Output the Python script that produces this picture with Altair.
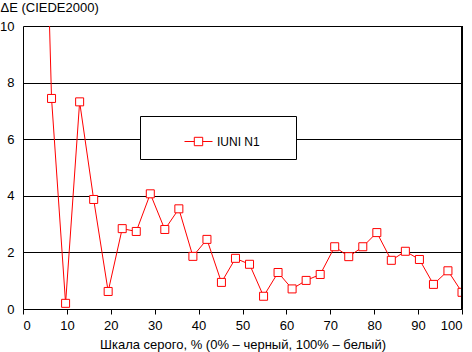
import altair as alt
import pandas as pd

gray_pct = [3.2, 6.5, 9.7, 12.9, 16.1, 19.4, 22.6, 25.8, 29.0, 32.3, 35.5, 38.7,
            41.9, 45.2, 48.4, 51.6, 54.8, 58.1, 61.3, 64.5, 67.7, 71.0, 74.2,
            77.4, 80.6, 83.9, 87.1, 90.3, 93.5, 96.8, 100.0]
delta_e = [26.0, 7.44, 0.2, 7.32, 3.87, 0.62, 2.84, 2.74, 4.07, 2.81, 3.54, 1.86,
           2.46, 0.94, 1.79, 1.58, 0.45, 1.29, 0.71, 1.01, 1.22, 2.2, 1.85,
           2.2, 2.7, 1.72, 2.04, 1.75, 0.87, 1.35, 0.59]
series_name = "IUNI N1"
x_ticks = [0, 10, 20, 30, 40, 50, 60, 70, 80, 90, 100]
y_ticks = [0, 2, 4, 6, 8, 10]

df = pd.DataFrame({"x": gray_pct, "y": delta_e, "s": [series_name] * len(gray_pct)})

FONT = "Liberation Sans"
RED = "#ff0000"

x_enc = alt.X("x:Q", scale=alt.Scale(domain=[0, 100], nice=False),
              axis=alt.Axis(values=x_ticks, grid=False, tickSize=5, tickColor="black",
                            domainColor="black", labelPadding=5, labelFontSize=13,
                            labelColor="black", labelFont=FONT,
                            title="Шкала серого, % (0% – черный, 100% – белый)",
                            titleFont=FONT, titleFontSize=13, titleFontWeight="normal",
                            titleColor="black", titlePadding=6))
y_enc = alt.Y("y:Q", scale=alt.Scale(domain=[0, 10], nice=False),
              axis=alt.Axis(values=y_ticks, grid=True, gridColor="black", gridOpacity=1,
                            gridWidth=1, ticks=False, domainColor="black",
                            labelPadding=9, labelFontSize=13, labelColor="black",
                            labelFont=FONT, title="ΔE (CIEDE2000)", titleFont=FONT,
                            titleFontSize=13, titleFontWeight="normal", titleColor="black",
                            titleAngle=0, titleAlign="left", titleBaseline="alphabetic",
                            titleX=-23, titleY=-15))

symbol_path = "M-1,0L-0.3,0M0.3,0L1,0M-0.3,-0.3L0.3,-0.3L0.3,0.3L-0.3,0.3Z"

line = alt.Chart(df).mark_line(clip=True, strokeWidth=1).encode(
    x=x_enc, y=y_enc,
    color=alt.Color("s:N", scale=alt.Scale(range=[RED]),
                    legend=alt.Legend(title="\u00a0", titleOrient="right",
                                      titleFontSize=12, titlePadding=25,
                                      orient="none", legendX=117, legendY=90,
                                      strokeColor="black", fillColor="white", padding=11,
                                      symbolType=symbol_path, symbolSize=784,
                                      symbolStrokeColor=RED, symbolFillColor="white",
                                      symbolStrokeWidth=1, symbolOffset=33,
                                      labelFont=FONT, labelFontSize=12, labelColor="black",
                                      labelOffset=4))
)
points = alt.Chart(df).mark_point(shape="square", filled=True, fill="white", stroke=RED,
                                  strokeWidth=1, size=64, opacity=1, clip=True).encode(
    x="x:Q", y="y:Q"
)
border = alt.Chart(df).mark_rule(color="black", strokeWidth=1).encode(x=alt.datum(100))

chart = alt.layer(line, points, border).properties(
    width=439, height=283,
    autosize=alt.AutoSizeParams(type="none"),
    padding={"left": 23, "top": 26, "right": 10, "bottom": 43},
).configure_view(stroke=None)

chart.save("out.html", embed_options={"renderer": "svg", "actions": False})
